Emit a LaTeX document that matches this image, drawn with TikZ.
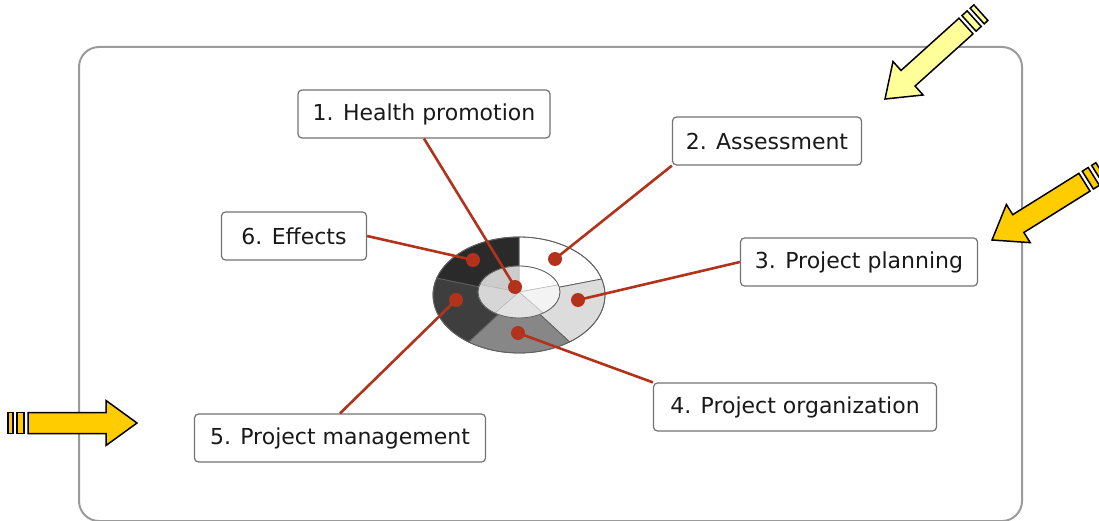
\documentclass[tikz,border=0pt]{standalone}
\usepackage{fontspec}
\setmainfont{DejaVu Sans}
\usetikzlibrary{positioning}

\definecolor{linered}{RGB}{178,50,28}
\definecolor{arroworange}{RGB}{255,204,0}
\definecolor{arrowpale}{RGB}{255,255,153}
\definecolor{framegray}{RGB}{155,155,155}
\definecolor{boxgray}{RGB}{115,115,115}
\definecolor{ringlight}{RGB}{220,220,220}
\definecolor{ringmid}{RGB}{135,135,135}
\definecolor{ringdark}{RGB}{62,62,62}
\definecolor{ringdarker}{RGB}{42,42,42}
\definecolor{hublight}{RGB}{243,243,243}
\definecolor{hubmid}{RGB}{226,226,226}
\definecolor{hubdark}{RGB}{214,214,214}
\definecolor{hubdarker}{RGB}{204,204,204}

\tikzset{
	label box/.style={draw=boxgray, line width=1.2pt, rounded corners=4pt, fill=white,
		minimum height=48pt, inner xsep=8pt, font=\fontsize{22}{26}\selectfont, text=black!90},
	red line/.style={draw=linered, line width=2.6pt},
	red dot/.style={circle, fill=linered, inner sep=0pt, minimum size=14pt},
	block arrow/.style={draw=black, line width=1.5pt, line join=miter},
	ring line/.style={draw=gray!75!black, line width=0.8pt},
	hub line/.style={draw=gray!55, line width=0.5pt},
	frame/.style={draw=framegray, line width=2pt, rounded corners=20pt},
}

% block arrow with two stripes at its tail: fill, tip, angle
\newcommand{\stripedarrow}[3]{%
	\begin{scope}[shift={#2}, rotate=#3]
		\filldraw[block arrow, fill=#1] (0,0) -- (-31,-22.5) -- (-31,-10.5) -- (-109,-10.5)
			-- (-109,10.5) -- (-31,10.5) -- (-31,22.5) -- cycle;
		\filldraw[block arrow, fill=#1] (-113,-10.5) rectangle (-120,10.5);
		\filldraw[block arrow, fill=#1] (-124,-10.5) rectangle (-129,10.5);
	\end{scope}}

\begin{document}
\begin{tikzpicture}[x=1pt, y=-1pt]

	\useasboundingbox (0,0) rectangle (1099,521);

	% ------------------------------------------------
	% Frame and arrows
	\draw[frame] (79,47) rectangle (1022,521);

	\stripedarrow{arrowpale}{(885,99)}{222}
	\stripedarrow{arroworange}{(992,240)}{212}
	\stripedarrow{arroworange}{(137,423)}{0}

	% ------------------------------------------------
	% Ring
	\coordinate (ring) at (519,295);
	\coordinate (hub)  at (519,292);

	\foreach \a/\b/\c in {-90/-16/white, -16/54/ringlight, 54/126/ringmid, 126/197/ringdark, 197/270/ringdarker}
		\filldraw[ring line, fill=\c, shift={(ring)}] (0,0) -- (\a:86 and 58)
			arc[start angle=\a, end angle=\b, x radius=86, y radius=58] -- cycle;

	\foreach \a/\b/\c in {-90/-16/white, -16/54/hublight, 54/126/hubmid, 126/197/hubdark, 197/270/hubdarker}
		\filldraw[hub line, fill=\c, shift={(hub)}] (0,0) -- (\a:41 and 26)
			arc[start angle=\a, end angle=\b, x radius=41, y radius=26] -- cycle;

	\draw[ring line] (ring) ellipse[x radius=86, y radius=58];
	\draw[ring line] (hub)  ellipse[x radius=41, y radius=26];

	% ------------------------------------------------
	% Labels
	\node[label box, minimum width=252pt] (health)       at (424,114) {1. Health promotion};
	\node[label box, minimum width=189pt] (assessment)   at (767,141) {2. Assessment};
	\node[label box, minimum width=237pt] (planning)     at (859,262) {3. Project planning};
	\node[label box, minimum width=283pt] (organization) at (795,407) {4. Project organization};
	\node[label box, minimum width=291pt] (management)   at (340,438) {5. Project management};
	\node[label box, minimum width=145pt] (effects)      at (294,236) {6. Effects};

	% ----------------
	% Dots and leaders
	\coordinate (p1) at (515,287);
	\coordinate (p2) at (555,259);
	\coordinate (p3) at (578,300);
	\coordinate (p4) at (518,333);
	\coordinate (p5) at (456,300);
	\coordinate (p6) at (473,260);

	\draw[red line] (health.south)            -- (p1);
	\draw[red line] (assessment.south west)   -- (p2);
	\draw[red line] (planning.west)           -- (p3);
	\draw[red line] (organization.north west) -- (p4);
	\draw[red line] (management.north)        -- (p5);
	\draw[red line] (effects.east)            -- (p6);

	\foreach \i in {1,...,6}
		\node[red dot] (dot\i) at (p\i) {};

\end{tikzpicture}
\end{document}
